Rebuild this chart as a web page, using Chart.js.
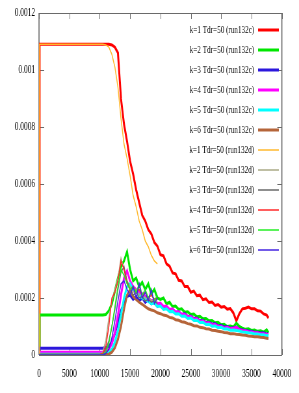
<!DOCTYPE html>
<html lang="en">
<head>
<meta charset="UTF-8">
<title>k Tdr=50 run132c / run132d</title>
<script src="https://cdn.jsdelivr.net/npm/chart.js"></script>
<style>
  html, body { margin: 0; padding: 0; background: #fff; }
  #c { display: block; }
</style>
</head>
<body>
<!-- drawn wide and shown narrow: the original picture is squeezed sideways -->
<canvas id="c" width="460" height="393" style="width:299px;height:393px"></canvas>
<script>
// times of the two runs
var tC = [0, 100, 5000, 10000, 10500, 11000, 11500, 12000, 12500, 13000,
          13500, 14000, 14500, 15000, 15500, 16000, 16500, 17000, 17500, 18000,
          18500, 19000, 19500, 20000, 20500, 21000, 21500, 22000, 22500, 23000,
          23500, 24000, 24500, 25000, 25500, 26000, 26500, 27000, 27500, 28000,
          28500, 29000, 29500, 30000, 30500, 31000, 31500, 32000, 32500, 33000,
          33500, 34000, 34500, 35000, 35500, 36000, 36500, 37000, 37500, 37800];
var tD = [0, 100, 5000, 10000, 10500, 11000, 11500, 12000, 12500, 13000,
          13500, 14000, 14500, 15000, 15500, 16000, 16500, 17000, 17500, 18000,
          18500, 19000, 19500];

// values, in units of 1e-4
var k1c = [0, 10.9, 10.9, 10.9, 10.9, 10.9, 10.9, 10.88, 10.8, 10.6,
           9.0, 8.1, 7.5, 6.8, 6.35, 5.8, 5.35, 4.9, 4.7, 4.4,
           4.25, 3.95, 3.82, 3.52, 3.48, 3.2, 3.12, 2.88, 2.85, 2.62,
           2.6, 2.4, 2.4, 2.2, 2.24, 2.08, 2.1, 1.94, 1.97, 1.84,
           1.86, 1.74, 1.77, 1.68, 1.7, 1.61, 1.63, 1.48, 1.2, 1.45,
           1.62, 1.64, 1.68, 1.62, 1.62, 1.55, 1.54, 1.44, 1.4, 1.3];
var k2c = [0, 1.4, 1.4, 1.4, 1.4, 1.42, 1.55, 1.8, 2.25, 2.7,
           3.1, 3.3, 3.62, 3.0, 2.6, 2.7, 2.4, 2.55, 2.3, 2.5,
           2.15, 2.3, 2.0, 1.95, 2.0, 1.8, 1.85, 1.7, 1.72, 1.6,
           1.62, 1.5, 1.52, 1.42, 1.44, 1.34, 1.36, 1.27, 1.28, 1.2,
           1.21, 1.13, 1.15, 1.06, 1.08, 1.0, 1.02, 0.98, 1.12, 1.0,
           0.94, 0.9, 0.92, 0.86, 0.88, 0.83, 0.85, 0.8, 0.88, 0.78];
var k3c = [0, 0.24, 0.24, 0.24, 0.24, 0.26, 0.3, 0.45, 0.75, 1.15,
           1.55, 1.85, 2.05, 2.1, 1.95, 2.05, 1.9, 2.0, 1.85, 1.95,
           1.8, 1.85, 1.7, 1.78, 1.65, 1.68, 1.56, 1.6, 1.5, 1.52,
           1.42, 1.45, 1.35, 1.37, 1.28, 1.3, 1.2, 1.22, 1.14, 1.15,
           1.08, 1.1, 1.02, 1.04, 0.98, 1.0, 0.93, 0.96, 0.98, 0.9,
           0.88, 0.86, 0.84, 0.83, 0.8, 0.8, 0.77, 0.78, 0.74, 0.75];
var k4c = [0, 0.1, 0.1, 0.1, 0.1, 0.12, 0.2, 0.4, 0.8, 1.4,
           2.1, 2.7, 2.95, 2.6, 2.4, 2.3, 2.2, 2.15, 2.05, 2.0,
           1.9, 1.95, 1.8, 1.82, 1.7, 1.72, 1.6, 1.62, 1.5, 1.52,
           1.42, 1.43, 1.34, 1.35, 1.26, 1.27, 1.18, 1.2, 1.12, 1.13,
           1.06, 1.07, 1.0, 1.01, 0.95, 0.97, 0.92, 0.94, 0.97, 0.89,
           0.86, 0.85, 0.82, 0.81, 0.78, 0.78, 0.75, 0.75, 0.72, 0.72];
var k5c = [0, 0.03, 0.03, 0.03, 0.03, 0.04, 0.08, 0.2, 0.45, 0.85,
           1.4, 2.0, 2.4, 2.5, 2.3, 2.2, 2.1, 2.0, 1.95, 1.88,
           1.8, 1.82, 1.7, 1.72, 1.6, 1.62, 1.52, 1.53, 1.44, 1.45,
           1.36, 1.37, 1.28, 1.3, 1.21, 1.22, 1.14, 1.15, 1.07, 1.08,
           1.01, 1.02, 0.96, 0.97, 0.91, 0.92, 0.87, 0.88, 0.86, 0.84,
           0.81, 0.8, 0.78, 0.77, 0.74, 0.74, 0.71, 0.71, 0.68, 0.68];
var k6c = [0, 0, 0, 0, 0, 0.01, 0.03, 0.1, 0.25, 0.55,
           1.0, 1.6, 2.1, 2.3, 2.05, 1.95, 1.85, 1.78, 1.7, 1.62,
           1.58, 1.55, 1.48, 1.45, 1.4, 1.38, 1.32, 1.3, 1.24, 1.22,
           1.17, 1.15, 1.1, 1.08, 1.03, 1.02, 0.97, 0.96, 0.92, 0.91,
           0.87, 0.86, 0.83, 0.82, 0.79, 0.78, 0.75, 0.75, 0.73, 0.72,
           0.7, 0.69, 0.67, 0.66, 0.64, 0.64, 0.62, 0.61, 0.59, 0.58];

var k1d = [0, 10.9, 10.9, 10.9, 10.9, 10.88, 10.8, 10.55, 10.1, 9.4,
           8.3, 7.4, 6.9, 6.3, 5.6, 5.2, 4.7, 4.4, 4.0, 3.8,
           3.5, 3.3, 3.2];
var k2d = [0, 0, 0, 0.02, 0.1, 0.5, 1.3, 1.9, 2.3, 2.7,
           3.4, 3.0, 2.6, 2.4, 2.2, 2.3, 2.1, 2.15, 2.0, 2.05,
           1.9, 1.95, 1.85];
var k3d = [0, 0.02, 0.02, 0.02, 0.05, 0.2, 0.5, 1.0, 1.6, 2.3,
           2.9, 3.1, 2.6, 2.3, 2.1, 2.2, 2.0, 2.05, 1.9, 1.95,
           1.85, 1.9, 1.8];
var k4d = [0, 0.01, 0.01, 0.01, 0.05, 0.3, 1.0, 2.0, 2.2, 2.6,
           3.3, 3.0, 2.5, 2.3, 2.4, 2.2, 2.3, 2.1, 2.2, 2.0,
           2.1, 1.95, 2.0];
var k5d = [0, 0, 0, 0, 0.02, 0.1, 0.4, 1.0, 1.7, 2.4,
           3.0, 2.8, 2.5, 2.3, 2.4, 2.2, 2.5, 2.1, 2.3, 2.0,
           2.2, 1.9, 2.1];
var k6d = [0, 0, 0, 0, 0.01, 0.05, 0.2, 0.6, 1.2, 1.9,
           2.5, 2.6, 2.3, 2.1, 2.4, 2.0, 2.5, 2.0, 2.2, 1.9,
           2.3, 1.8, 2.0];

var names = ['k=1 Tdr=50 (run132c)', 'k=2 Tdr=50 (run132c)', 'k=3 Tdr=50 (run132c)',
             'k=4 Tdr=50 (run132c)', 'k=5 Tdr=50 (run132c)', 'k=6 Tdr=50 (run132c)',
             'k=1 Tdr=50 (run132d)', 'k=2 Tdr=50 (run132d)', 'k=3 Tdr=50 (run132d)',
             'k=4 Tdr=50 (run132d)', 'k=5 Tdr=50 (run132d)', 'k=6 Tdr=50 (run132d)'];
var xTickLabels = ['0', '5000', '10000', '15000', '20000', '25000', '30000', '35000', '40000'];
var yTickLabels = ['0', '0.0002', '0.0004', '0.0006', '0.0008', '0.001', '0.0012'];

var colors = ['#ff0000', '#00e600', '#2c17dc', '#ff00ff', '#00ffff', '#b5653a',
              '#ffb92e', '#aaaa86', '#6a6a6a', '#ff2a2a', '#25ee25', '#4424e0'];
var widths = [3, 3, 3, 3, 3, 3, 1.5, 1.5, 1.5, 1.5, 1.5, 1.5];

var series = [[tC, k1c], [tC, k2c], [tC, k3c], [tC, k4c], [tC, k5c], [tC, k6c],
              [tD, k1d], [tD, k2d], [tD, k3d], [tD, k4d], [tD, k5d], [tD, k6d]];

var datasets = series.map(function (s, i) {
    return {
        label: names[i],
        data: s[0].map(function (t, j) { return { x: t, y: s[1][j] }; }),
        borderColor: colors[i],
        borderWidth: widths[i],
        pointRadius: 0,
        tension: 0,
        fill: false,
        order: 100 - i   // later runs on top, as gnuplot draws them
    };
});

var FONT = '"Liberation Serif", "Times New Roman", serif';

// gnuplot style border with inward ticks on all four sides
var framePlugin = {
    id: 'frame',
    beforeDatasetsDraw: function (chart) {
        var a = chart.chartArea, ctx = chart.ctx;
        var sx = chart.scales.x, sy = chart.scales.y;
        ctx.save();
        ctx.strokeStyle = '#6a6a6a';
        ctx.lineWidth = 1;
        ctx.beginPath();
        sx.ticks.forEach(function (t) {
            var px = Math.round(sx.getPixelForValue(t.value)) + 0.5;
            ctx.moveTo(px, a.bottom); ctx.lineTo(px, a.bottom - 6);
            ctx.moveTo(px, a.top); ctx.lineTo(px, a.top + 6);
        });
        sy.ticks.forEach(function (t) {
            var py = Math.round(sy.getPixelForValue(t.value)) + 0.5;
            ctx.moveTo(a.left, py); ctx.lineTo(a.left + 8, py);
            ctx.moveTo(a.right, py); ctx.lineTo(a.right - 7, py);
        });
        ctx.moveTo(a.left, Math.round(a.top) + 0.5); ctx.lineTo(a.right, Math.round(a.top) + 0.5);
        ctx.moveTo(a.left, Math.round(a.bottom) + 0.5); ctx.lineTo(a.right, Math.round(a.bottom) + 0.5);
        ctx.stroke();
        ctx.lineWidth = 1.6;
        ctx.beginPath();
        ctx.moveTo(a.left, a.top); ctx.lineTo(a.left, a.bottom);
        ctx.moveTo(a.right, a.top); ctx.lineTo(a.right, a.bottom);
        ctx.stroke();
        ctx.restore();
    }
};

// key in the top right corner, text right aligned, sample line after it
var keyPlugin = {
    id: 'key',
    afterDatasetsDraw: function (chart) {
        var ctx = chart.ctx;
        ctx.save();
        ctx.font = '11px ' + FONT;
        ctx.textAlign = 'right';
        ctx.textBaseline = 'middle';
        for (var i = 0; i < names.length; i++) {
            var y = 30 + 20 * i;
            ctx.fillStyle = '#000';
            ctx.fillText(names[i], 391, y);
            ctx.strokeStyle = colors[i];
            ctx.lineWidth = widths[i];
            ctx.beginPath();
            ctx.moveTo(397, y);
            ctx.lineTo(429, y);
            ctx.stroke();
        }
        ctx.restore();
    }
};

var config = {
    type: 'line',
    data: { datasets: datasets },
    options: {
        responsive: false,
        animation: false,
        devicePixelRatio: 1,
        layout: { padding: { left: 0, right: 18.5, top: 13, bottom: 0 } },
        plugins: { legend: { display: false }, tooltip: { enabled: false } },
        scales: {
            x: {
                type: 'linear',
                min: 0,
                max: 40000,
                grid: { display: false, drawTicks: false },
                border: { display: false },
                afterFit: function (s) { s.height = 38; },
                ticks: {
                    stepSize: 5000,
                    maxRotation: 0,
                    autoSkip: false,
                    padding: 12,
                    color: '#000',
                    font: { family: FONT, size: 11.5 },
                    callback: function (v, i) { return xTickLabels[i]; }
                }
            },
            y: {
                min: 0,
                max: 12,
                grid: { display: false, drawTicks: false },
                border: { display: false },
                afterFit: function (s) { s.width = 60; },
                ticks: {
                    stepSize: 2,
                    padding: 6,
                    color: '#000',
                    font: { family: FONT, size: 11.5 },
                    callback: function (v, i) { return yTickLabels[i]; }
                }
            }
        }
    },
    plugins: [framePlugin, keyPlugin]
};

var ctx = document.getElementById('c').getContext('2d');
var chart = new Chart(ctx, config);
</script>
</body>
</html>
